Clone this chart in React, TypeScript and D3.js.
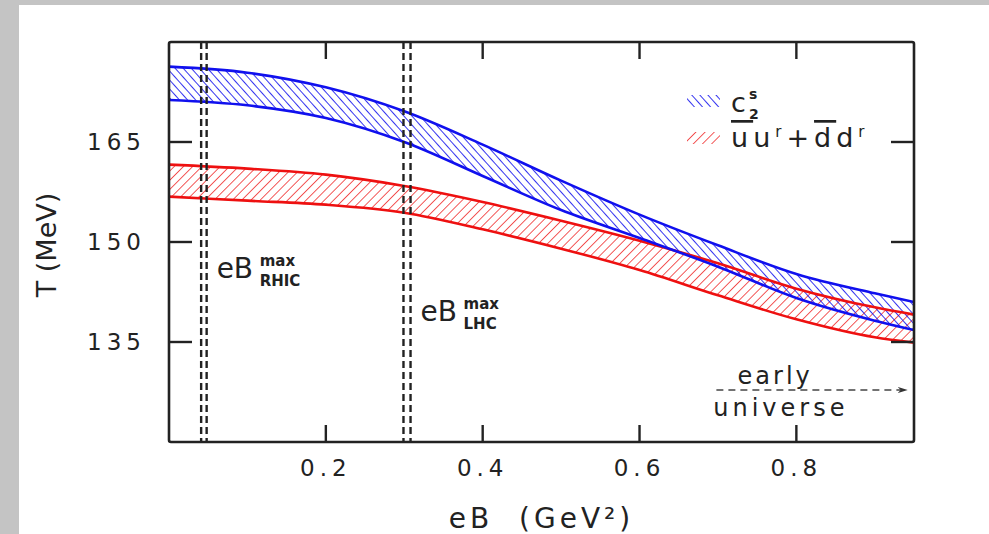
import { scaleLinear, area as d3area, line as d3line, curveMonotoneX } from "d3";

// eB grid (GeV^2) and band edges (MeV)
const eB = [0, 0.1, 0.2, 0.3, 0.4, 0.5, 0.6, 0.7, 0.8, 0.9, 0.95];
const cs2Upper = [176.3, 175.4, 173.2, 169.6, 164.6, 159.2, 154.1, 149.5, 145.2, 142.3, 141.0];
const cs2Lower = [171.3, 170.5, 168.6, 165.0, 159.9, 154.8, 150.6, 146.3, 141.6, 138.2, 136.8];
const condUpper = [161.6, 161.0, 160.1, 158.4, 156.0, 153.2, 150.2, 146.8, 143.0, 140.2, 139.1];
const condLower = [156.8, 156.2, 155.6, 154.4, 151.9, 149.0, 145.8, 142.0, 138.4, 135.7, 134.9];

const xTicks = [0.2, 0.4, 0.6, 0.8];
const yTicks = [135, 150, 165];
const rhicLines = [0.041, 0.048];
const lhcLines = [0.299, 0.308];

const W = 989;
const H = 534;
const left = 169;
const right = 914;
const top = 42;
const bottom = 442;

const BLUE = "#1010ee";
const RED = "#ee1010";
const FONT = "'DejaVu Sans', sans-serif";

type Band = { id: string; upper: number[]; lower: number[]; color: string };

const bands: Band[] = [
  { id: "cond", upper: condUpper, lower: condLower, color: RED },
  { id: "cs2", upper: cs2Upper, lower: cs2Lower, color: BLUE },
];

export default function App() {
  const x = scaleLinear().domain([0, 0.95]).range([left, right]);
  const y = scaleLinear().domain([120, 180]).range([bottom, top]);

  const rows = (b: Band) => eB.map((e, i) => ({ e, hi: b.upper[i], lo: b.lower[i] }));

  const areaGen = d3area<{ e: number; hi: number; lo: number }>()
    .x((d) => x(d.e))
    .y0((d) => y(d.lo))
    .y1((d) => y(d.hi))
    .curve(curveMonotoneX);

  const edge = (vals: number[]) =>
    d3line<number>()
      .x((_, i) => x(eB[i]))
      .y((v) => y(v))
      .curve(curveMonotoneX)(vals) ?? undefined;

  return (
    <div style={{ position: "absolute", left: 0, top: 0, width: W, height: H }}>
      <svg width={W} height={H} style={{ display: "block" }}>
        <defs>
          <pattern id="hatch-cs2" width="6" height="6" patternUnits="userSpaceOnUse" patternTransform="rotate(-42)">
            <line x1="0" y1="0" x2="0" y2="6" stroke={BLUE} strokeWidth="1.7" />
          </pattern>
          <pattern id="hatch-cond" width="6.5" height="6.5" patternUnits="userSpaceOnUse" patternTransform="rotate(45)">
            <line x1="0" y1="0" x2="0" y2="6.5" stroke={RED} strokeWidth="1.4" />
          </pattern>
          <clipPath id="plot-clip">
            <rect x={left} y={top} width={right - left} height={bottom - top} />
          </clipPath>
          <marker id="arrowhead" viewBox="0 0 10 6" refX="10" refY="3" markerWidth="10" markerHeight="6" orient="auto" markerUnits="userSpaceOnUse">
            <path d="M0,0 L10,3 L0,6 L3,3 Z" fill="#333" />
          </marker>
        </defs>

        {/* gray page background with white panel */}
        <rect x={0} y={0} width={W} height={H} fill="#c4c4c4" />
        <rect x={19} y={5} width={W - 19} height={H - 5} fill="#ffffff" />

        {/* bands */}
        <g clipPath="url(#plot-clip)">
          {bands.map((b) => (
            <path key={b.id} d={areaGen(rows(b)) ?? undefined} fill={`url(#hatch-${b.id})`} />
          ))}
          {bands.map((b) => (
            <g key={b.id + "-edges"}>
              <path d={edge(b.upper)} fill="none" stroke={b.color} strokeWidth={2.6} />
              <path d={edge(b.lower)} fill="none" stroke={b.color} strokeWidth={2.6} />
            </g>
          ))}
        </g>

        {/* double dashed lines for RHIC and LHC fields */}
        {[...rhicLines, ...lhcLines].map((v, i) => (
          <line
            key={i}
            x1={x(v)}
            x2={x(v)}
            y1={top}
            y2={bottom}
            stroke="#222"
            strokeWidth={2.4}
            strokeDasharray="7 4"
          />
        ))}

        {/* frame */}
        <rect
          x={left}
          y={top}
          width={right - left}
          height={bottom - top}
          fill="none"
          stroke="#222"
          strokeWidth={2.6}
          rx={2}
        />

        {/* x ticks, bottom and top */}
        {xTicks.map((t) => (
          <g key={t}>
            <line x1={x(t)} x2={x(t)} y1={bottom} y2={bottom - 17} stroke="#222" strokeWidth={2.4} />
            <line x1={x(t)} x2={x(t)} y1={top} y2={top + 17} stroke="#222" strokeWidth={2.4} />
            <text
              x={x(t)}
              y={bottom + 34}
              textAnchor="middle"
              fontFamily={FONT}
              fontSize={23}
              letterSpacing={5}
              fill="#222"
            >
              {t.toFixed(1)}
            </text>
          </g>
        ))}

        {/* y ticks, left and right */}
        {yTicks.map((t) => (
          <g key={t}>
            <line x1={left} x2={left + 23} y1={y(t)} y2={y(t)} stroke="#222" strokeWidth={2.4} />
            <line x1={right} x2={right - 23} y1={y(t)} y2={y(t)} stroke="#222" strokeWidth={2.4} />
            <text
              x={146}
              y={y(t) + 8}
              textAnchor="end"
              fontFamily={FONT}
              fontSize={23}
              letterSpacing={5}
              fill="#222"
            >
              {t}
            </text>
          </g>
        ))}

        {/* axis titles */}
        <text
          x={(left + right) / 2}
          y={528}
          textAnchor="middle"
          fontFamily={FONT}
          fontSize={28}
          letterSpacing={4}
          fill="#222"
        >
          eB{"\u00a0\u00a0"}(GeV²)
        </text>
        <text
          transform={`translate(56, 245) rotate(-90)`}
          textAnchor="middle"
          fontFamily={FONT}
          fontSize={27}
          fill="#222"
        >
          T{"\u00a0"}(MeV)
        </text>

        {/* field labels */}
        <g fontFamily={FONT} fill="#222">
          <text x={x(rhicLines[1]) + 10} y={278} fontSize={28}>eB</text>
          <text x={x(rhicLines[1]) + 53} y={266} fontSize={15} fontWeight="bold">max</text>
          <text x={x(rhicLines[1]) + 53} y={286} fontSize={15} fontWeight="bold">RHIC</text>
          <text x={x(lhcLines[1]) + 10} y={321} fontSize={28}>eB</text>
          <text x={x(lhcLines[1]) + 53} y={309} fontSize={15} fontWeight="bold">max</text>
          <text x={x(lhcLines[1]) + 53} y={329} fontSize={15} fontWeight="bold">LHC</text>
        </g>

        {/* legend */}
        <g fontFamily={FONT} fill="#222">
          <rect x={687} y={95} width={33} height={12} fill="url(#hatch-cs2)" />
          <text x={731} y={112} fontSize={27}>c</text>
          <text x={749} y={99} fontSize={14} fontWeight="bold">s</text>
          <text x={749} y={119} fontSize={14} fontWeight="bold">2</text>
          <rect x={687} y={132} width={33} height={12} fill="url(#hatch-cond)" />
          <text x={731} y={147} fontSize={27} letterSpacing={5}>
            <tspan style={{ textDecoration: "overline" }}>u</tspan>
            <tspan>u</tspan>
            <tspan fontSize={15} dy={-10}>r</tspan>
            <tspan dy={10}>+</tspan>
            <tspan style={{ textDecoration: "overline" }}>d</tspan>
            <tspan>d</tspan>
            <tspan fontSize={15} dy={-10}>r</tspan>
          </text>
        </g>

        {/* early universe arrow */}
        <g fontFamily={FONT} fill="#222">
          <text x={x(0.725)} y={384} fontSize={24} letterSpacing={3}>early</text>
          <line
            x1={x(0.698)}
            x2={x(0.942)}
            y1={390}
            y2={390}
            stroke="#444"
            strokeWidth={1.6}
            strokeDasharray="7 5"
            markerEnd="url(#arrowhead)"
          />
          <text x={x(0.694)} y={416} fontSize={24} letterSpacing={4}>universe</text>
        </g>
      </svg>
    </div>
  );
}
